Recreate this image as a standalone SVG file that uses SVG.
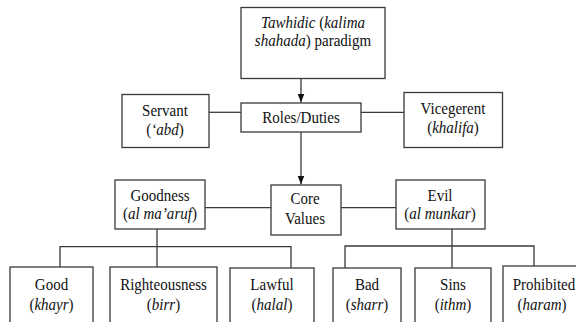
<svg xmlns="http://www.w3.org/2000/svg" width="576" height="322" viewBox="0 0 576 322">
<defs>
<style>
.box{fill:#fff;stroke:#3a3a3a;stroke-width:1.3}
.ln{fill:none;stroke:#3a3a3a;stroke-width:1.3}
text{font-family:"Liberation Serif","Times New Roman",serif;font-size:16.5px;fill:#111;text-anchor:middle}
.i{font-style:italic}
</style>
<marker id="ah" viewBox="0 0 10 10" refX="10" refY="5" markerWidth="8.5" markerHeight="8.5" orient="auto" markerUnits="userSpaceOnUse">
<path d="M0,1.2 L10,5 L0,8.8 z" fill="#111"/>
</marker>
</defs>
<rect width="576" height="322" fill="#fff"/>
<g id="connectors">
<line class="ln" x1="301" y1="78.5" x2="301" y2="102.5" marker-end="url(#ah)"/>
<line class="ln" x1="209" y1="112.3" x2="241" y2="112.3"/>
<line class="ln" x1="361" y1="112.3" x2="404" y2="112.3"/>
<line class="ln" x1="301" y1="132" x2="301" y2="184.5" marker-end="url(#ah)"/>
<line class="ln" x1="205" y1="207.7" x2="271" y2="207.7"/>
<line class="ln" x1="341" y1="207.7" x2="396" y2="207.7"/>
<line class="ln" x1="157" y1="229" x2="157" y2="267"/>
<polyline class="ln" points="60,267 60,246.7 291,246.7 291,268"/>
<line class="ln" x1="452" y1="229" x2="452" y2="268"/>
<polyline class="ln" points="345,268 345,246 534,246 534,266"/>
</g>
<g id="tawhidic">
<rect class="box" x="241" y="7.5" width="144" height="71"/>
<text transform="translate(313 27.5) scale(0.91 1)"><tspan class="i">Tawhidic</tspan> (<tspan class="i">kalima</tspan></text>
<text transform="translate(313 45.5) scale(0.91 1)"><tspan class="i">shahada</tspan>) paradigm</text>
</g>
<g id="roles">
<rect class="box" x="241" y="103" width="120" height="29"/>
<text transform="translate(301 122.5) scale(0.91 1)">Roles/Duties</text>
</g>
<g id="servant">
<rect class="box" x="122" y="94.5" width="87" height="53"/>
<text transform="translate(165 116) scale(0.91 1)">Servant</text>
<text transform="translate(165 135) scale(0.91 1)">(<tspan class="i">‘abd</tspan>)</text>
</g>
<g id="vicegerent">
<rect class="box" x="404" y="92.5" width="98.5" height="55"/>
<text transform="translate(453 113.5) scale(0.91 1)">Vicegerent</text>
<text transform="translate(453 133) scale(0.91 1)">(<tspan class="i">khalifa</tspan>)</text>
</g>
<g id="core">
<rect class="box" x="271" y="185" width="70" height="50"/>
<text transform="translate(305 203.5) scale(0.91 1)">Core</text>
<text transform="translate(305 223.5) scale(0.91 1)">Values</text>
</g>
<g id="goodness">
<rect class="box" x="115" y="180" width="90" height="49"/>
<text transform="translate(160 201) scale(0.91 1)">Goodness</text>
<text transform="translate(160 219) scale(0.91 1)">(<tspan class="i">al ma’aruf</tspan>)</text>
</g>
<g id="evil">
<rect class="box" x="396" y="180" width="89" height="49"/>
<text transform="translate(440 201) scale(0.91 1)">Evil</text>
<text transform="translate(440 219) scale(0.91 1)">(<tspan class="i">al munkar</tspan>)</text>
</g>
<g id="good">
<rect class="box" x="10" y="267" width="83" height="70"/>
<text transform="translate(51.5 290) scale(0.91 1)">Good</text>
<text transform="translate(51.5 309.5) scale(0.91 1)">(<tspan class="i">khayr</tspan>)</text>
</g>
<g id="righteousness">
<rect class="box" x="110" y="267" width="107" height="70"/>
<text transform="translate(163.5 290) scale(0.91 1)">Righteousness</text>
<text transform="translate(163.5 309.5) scale(0.91 1)">(<tspan class="i">birr</tspan>)</text>
</g>
<g id="lawful">
<rect class="box" x="230" y="268" width="84" height="70"/>
<text transform="translate(272 290) scale(0.91 1)">Lawful</text>
<text transform="translate(272 309.5) scale(0.91 1)">(<tspan class="i">halal</tspan>)</text>
</g>
<g id="bad">
<rect class="box" x="333" y="268" width="68" height="70"/>
<text transform="translate(367 290) scale(0.91 1)">Bad</text>
<text transform="translate(367 309.5) scale(0.91 1)">(<tspan class="i">sharr</tspan>)</text>
</g>
<g id="sins">
<rect class="box" x="415" y="268" width="76" height="70"/>
<text transform="translate(453 290) scale(0.91 1)">Sins</text>
<text transform="translate(453 309.5) scale(0.91 1)">(<tspan class="i">ithm</tspan>)</text>
</g>
<g id="prohibited">
<rect class="box" x="503" y="266" width="80" height="70"/>
<text transform="translate(544 290) scale(0.91 1)">Prohibited</text>
<text transform="translate(542 309.5) scale(0.91 1)">(<tspan class="i">haram</tspan>)</text>
</g>
</svg>
